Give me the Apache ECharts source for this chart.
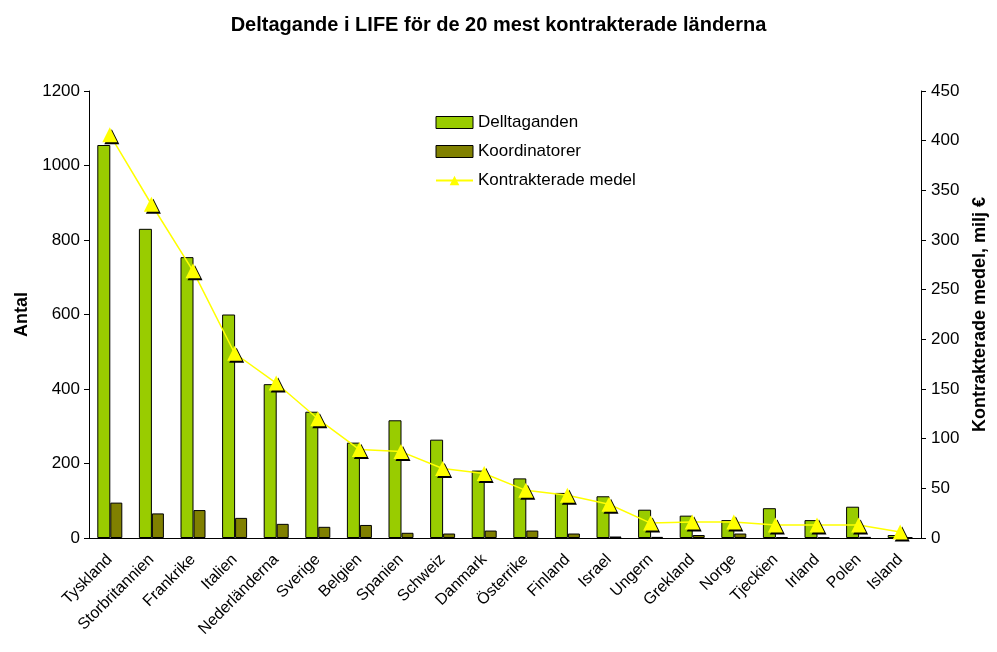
<!DOCTYPE html>
<html>
<head>
<meta charset="utf-8">
<script src="https://cdn.jsdelivr.net/npm/echarts@6/dist/echarts.min.js"></script>
<style>
  html, body { margin: 0; padding: 0; background: #fff; }
  #chart { width: 997px; height: 652px; }
</style>
</head>
<body>
<div id="chart"></div>
<script>
const countries = ['Tyskland', 'Storbritannien', 'Frankrike', 'Italien', 'Nederländerna', 'Sverige',
  'Belgien', 'Spanien', 'Schweiz', 'Danmark', 'Österrike', 'Finland', 'Israel', 'Ungern',
  'Grekland', 'Norge', 'Tjeckien', 'Irland', 'Polen', 'Island']
const deltaganden = [1055, 830, 754, 600, 413, 339, 256, 316, 264, 181, 160, 121, 112, 76, 60, 48, 80, 48, 84, 8]
const koordinatorer = [95, 66, 75, 54, 38, 30, 35, 14, 12, 20, 20, 12, 4, 3, 8, 12, 2, 1, 3, 2]
const medel = [406, 336, 269, 186, 156, 120, 89, 87, 70, 65, 48, 43, 34, 15, 16, 16, 13, 13, 13, 6]

const font = 'Liberation Sans, Arial, sans-serif'
const myChart = echarts.init(document.getElementById('chart'))

// markör med svart skugga som i originalet
const triStyle = {
  color: '#ffff00',
  shadowColor: '#000',
  shadowBlur: 0,
  shadowOffsetX: 2,
  shadowOffsetY: 2
}

myChart.setOption({
  backgroundColor: '#fff',
  animation: false,
  textStyle: { fontFamily: font },
  title: {
    text: 'Deltagande i LIFE för de 20 mest kontrakterade länderna',
    left: 'center',
    top: 10,
    textStyle: { fontSize: 20, fontWeight: 'bold', color: '#000', fontFamily: font }
  },
  legend: {
    left: 430,
    top: 109,
    orient: 'vertical',
    itemGap: 12,
    itemWidth: 37,
    itemHeight: 12,
    textStyle: { fontSize: 17, color: '#000', fontFamily: font },
    data: [
      { name: 'Delltaganden', icon: 'rect', itemStyle: { color: '#99cc00', borderColor: '#000', borderWidth: 1 } },
      { name: 'Koordinatorer', icon: 'rect', itemStyle: { color: '#808000', borderColor: '#000', borderWidth: 1 } },
      { name: 'Kontrakterade medel' }
    ]
  },
  grid: { left: 89, right: 69, top: 91, bottom: 114 },
  xAxis: {
    type: 'category',
    data: countries,
    axisLine: { lineStyle: { color: '#000', width: 1 } },
    axisTick: { alignWithLabel: false, length: 5, lineStyle: { color: '#000' } },
    axisLabel: { rotate: 45, interval: 0, fontSize: 16, color: '#000', margin: 19, fontFamily: font }
  },
  yAxis: [
    {
      type: 'value',
      min: 0,
      max: 1200,
      interval: 200,
      name: 'Antal',
      nameLocation: 'middle',
      nameGap: 55,
      nameTextStyle: { fontSize: 18, fontWeight: 'bold', color: '#000', fontFamily: font },
      axisLine: { show: true, lineStyle: { color: '#000' } },
      axisTick: { show: true, length: 5, lineStyle: { color: '#000' } },
      axisLabel: { fontSize: 17, color: '#000', margin: 9, fontFamily: font, formatter: (v) => String(v) },
      splitLine: { show: false }
    },
    {
      type: 'value',
      min: 0,
      max: 450,
      interval: 50,
      name: 'Kontrakterade medel, milj €',
      nameLocation: 'middle',
      nameGap: 50,
      nameRotate: 90,
      nameTextStyle: { fontSize: 18, fontWeight: 'bold', color: '#000', fontFamily: font },
      axisLine: { show: true, lineStyle: { color: '#000' } },
      axisTick: { show: true, length: 5, lineStyle: { color: '#000' } },
      axisLabel: { fontSize: 17, color: '#000', margin: 10, fontFamily: font },
      splitLine: { show: false }
    }
  ],
  series: [
    {
      name: 'Delltaganden',
      type: 'bar',
      data: deltaganden,
      barWidth: 13,
      barGap: '0%',
      itemStyle: { color: '#99cc00', borderColor: '#000', borderWidth: 1 }
    },
    {
      name: 'Koordinatorer',
      type: 'bar',
      data: koordinatorer,
      barWidth: 12,
      barGap: '0%',
      itemStyle: { color: '#808000', borderColor: '#000', borderWidth: 1 }
    },
    {
      name: 'Kontrakterade medel',
      type: 'line',
      yAxisIndex: 1,
      data: medel,
      symbol: 'triangle',
      symbolSize: 15,
      lineStyle: { color: '#ffff00', width: 1.5 },
      itemStyle: triStyle,
      z: 5
    }
  ]
})

window.addEventListener('resize', () => {
  myChart.resize()
})
</script>
</body>
</html>
